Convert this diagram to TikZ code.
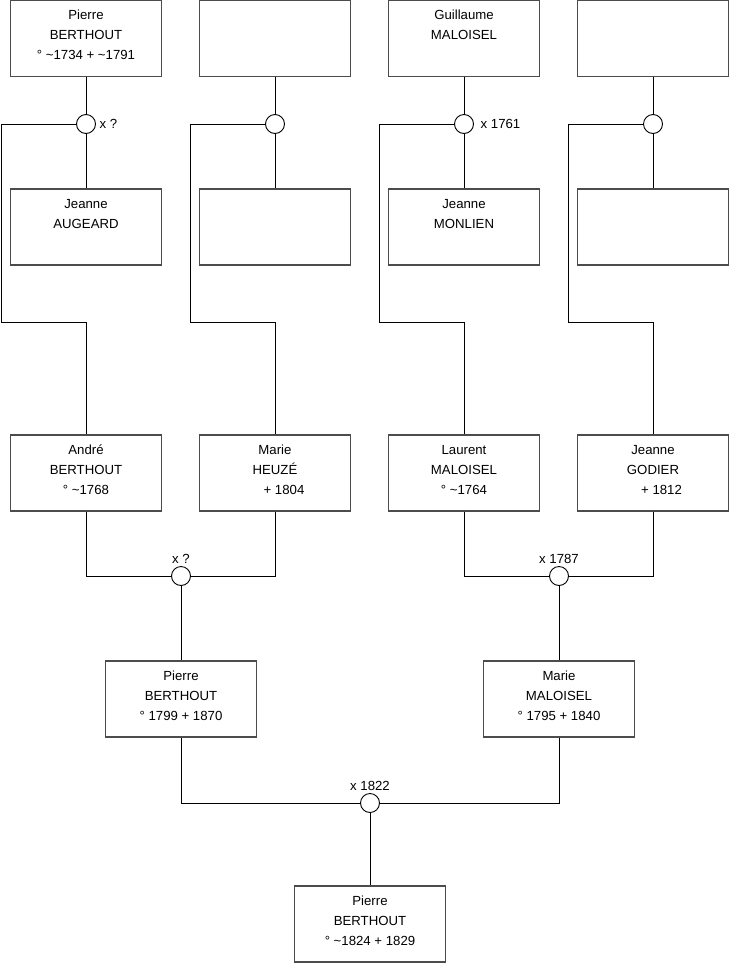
\documentclass[tikz,border=0pt]{standalone}
\usepackage{fontspec}
\setmainfont{Liberation Sans}
\newcommand{\famtext}[1]{\parbox[c][76pt][t]{151pt}{\centering\fontsize{13.2pt}{20pt}\selectfont\rule{0pt}{19.4pt}#1}}
\tikzset{
  person/.style={draw=black!70, line width=1.2pt, rectangle, inner sep=0pt, minimum width=151pt, minimum height=76pt, fill=white},
  union/.style={draw=black, line width=0.9pt, circle, inner sep=0pt, minimum size=19pt, fill=white},
  link/.style={draw=black, line width=0.9pt},
  lbl/.style={inner sep=0pt, font=\fontsize{13.2pt}{15pt}\selectfont}
}
\begin{document}
\begin{tikzpicture}[x=1pt,y=-1pt]
\useasboundingbox[fill=white] (0,0) rectangle (740,975);
% row 1
\node[person] (p1) at (86,38.5) {\famtext{Pierre\\BERTHOUT\\° \textasciitilde1734 + \textasciitilde1791}};
\node[person] (p2) at (275,38.5) {\famtext{}};
\node[person] (p3) at (464,38.5) {\famtext{Guillaume\\MALOISEL}};
\node[person] (p4) at (653,38.5) {\famtext{}};
% row 2
\node[person] (q1) at (86,227) {\famtext{Jeanne\\AUGEARD}};
\node[person] (q2) at (275,227) {\famtext{}};
\node[person] (q3) at (464,227) {\famtext{Jeanne\\MONLIEN}};
\node[person] (q4) at (653,227) {\famtext{}};
% row 3
\node[person] (r1) at (86,473) {\famtext{André\\BERTHOUT\\° \textasciitilde1768}};
\node[person] (r2) at (275,473) {\famtext{Marie\\HEUZÉ\\\hspace*{18pt}+ 1804}};
\node[person] (r3) at (464,473) {\famtext{Laurent\\MALOISEL\\° \textasciitilde1764}};
\node[person] (r4) at (653,473) {\famtext{Jeanne\\GODIER\\\hspace*{17pt}+ 1812}};
% row 4
\node[person] (s1) at (181,699) {\famtext{Pierre\\BERTHOUT\\° 1799 + 1870}};
\node[person] (s2) at (559,699) {\famtext{Marie\\MALOISEL\\° 1795 + 1840}};
% row 5
\node[person] (t1) at (370,924) {\famtext{Pierre\\BERTHOUT\\° \textasciitilde1824 + 1829}};
% unions
\node[union] (c1) at (86,124) {};
\node[union] (c2) at (275,124) {};
\node[union] (c3) at (464,124) {};
\node[union] (c4) at (653,124) {};
\node[union] (c5) at (181,576) {};
\node[union] (c6) at (559,576) {};
\node[union] (c7) at (370,803) {};
% bend coordinates
\coordinate (b1) at (1,322);
\coordinate (b2) at (190,322);
\coordinate (b3) at (379,322);
\coordinate (b4) at (568,322);
% connectors top
\draw[link] (p1.south) -- (c1.north);
\draw[link] (p2.south) -- (c2.north);
\draw[link] (p3.south) -- (c3.north);
\draw[link] (p4.south) -- (c4.north);
\draw[link] (c1.south) -- (q1.north);
\draw[link] (c2.south) -- (q2.north);
\draw[link] (c3.south) -- (q3.north);
\draw[link] (c4.south) -- (q4.north);
\draw[link] (c1.west) -| (b1) -| (r1.north);
\draw[link] (c2.west) -| (b2) -| (r2.north);
\draw[link] (c3.west) -| (b3) -| (r3.north);
\draw[link] (c4.west) -| (b4) -| (r4.north);
% lower connectors
\draw[link] (r1.south) |- (c5.west);
\draw[link] (r2.south) |- (c5.east);
\draw[link] (r3.south) |- (c6.west);
\draw[link] (r4.south) |- (c6.east);
\draw[link] (c5.south) -- (s1.north);
\draw[link] (c6.south) -- (s2.north);
\draw[link] (s1.south) |- (c7.west);
\draw[link] (s2.south) |- (c7.east);
\draw[link] (c7.south) -- (t1.north);
% labels
\node[lbl, anchor=base west] (l1) at ([xshift=3.5pt,yshift=-4.8pt]c1.east) {x ?};
\node[lbl, anchor=base west] (l3) at ([xshift=6.5pt,yshift=-4.8pt]c3.east) {x 1761};
\node[lbl, anchor=base] (l5) at ([yshift=12.2pt]c5.center) {x ?};
\node[lbl, anchor=base] (l6) at ([yshift=12.2pt]c6.center) {x 1787};
\node[lbl, anchor=base] (l7) at ([yshift=12.2pt]c7.center) {x 1822};
\end{tikzpicture}
\end{document}
